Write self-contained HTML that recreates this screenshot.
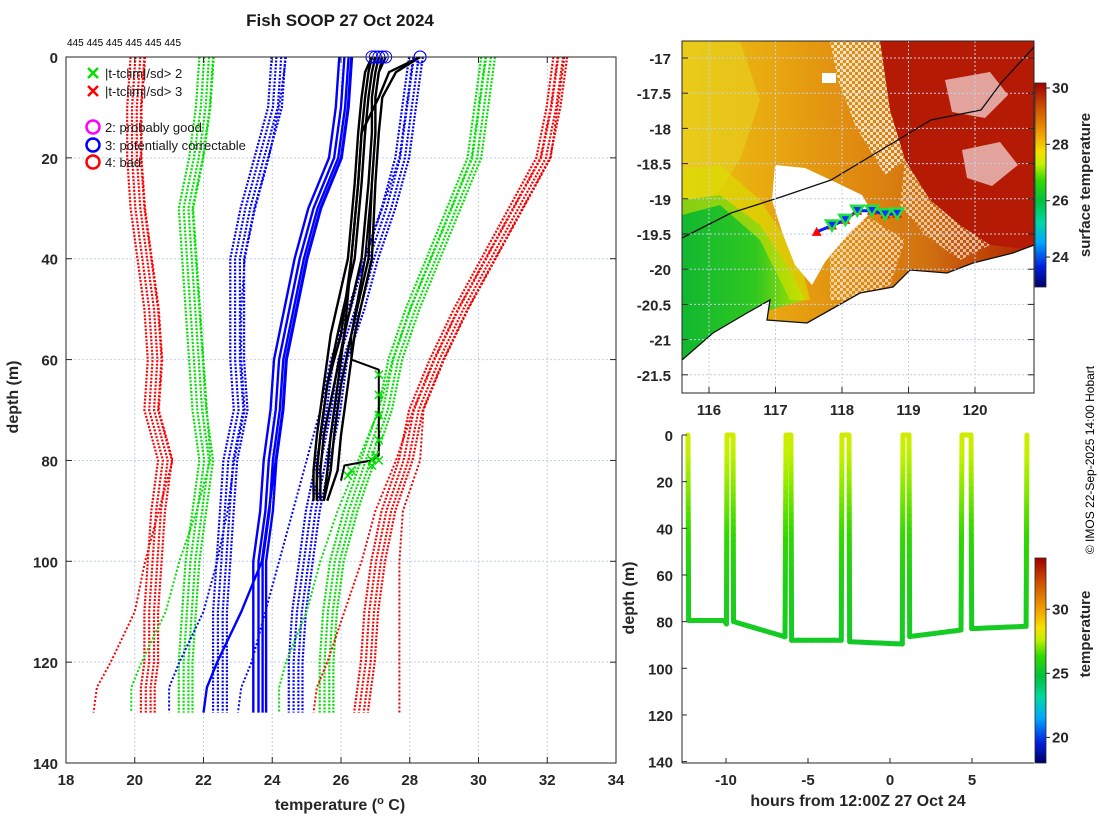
<!DOCTYPE html>
<html><head><meta charset="utf-8">
<style>
html,body{margin:0;padding:0;background:#fff;}
svg{display:block;font-family:"Liberation Sans",sans-serif;}
.tk{font-size:15px;font-weight:bold;fill:#262626;}
.tkm{font-size:15px;font-weight:bold;fill:#262626;}
.lab{font-size:16px;font-weight:bold;fill:#262626;}
</style></head>
<body>
<svg id="fig" width="1100" height="820" viewBox="0 0 1100 820" xmlns="http://www.w3.org/2000/svg">
<defs>
<linearGradient id="cbar" x1="0" y1="1" x2="0" y2="0">
<stop offset="0" stop-color="#00006a"/><stop offset="0.1" stop-color="#0020e0"/><stop offset="0.22" stop-color="#00a8ff"/><stop offset="0.32" stop-color="#00d8a0"/><stop offset="0.42" stop-color="#00c040"/><stop offset="0.52" stop-color="#30d800"/><stop offset="0.6" stop-color="#c0f000"/><stop offset="0.66" stop-color="#f8e000"/><stop offset="0.75" stop-color="#f0a000"/><stop offset="0.88" stop-color="#d05000"/><stop offset="1" stop-color="#a00000"/>
</linearGradient>
<linearGradient id="mapbase" x1="0" y1="0" x2="1" y2="0">
<stop offset="0" stop-color="#eac410"/><stop offset="0.25" stop-color="#e8a810"/><stop offset="0.5" stop-color="#e08a10"/><stop offset="0.7" stop-color="#d07010"/><stop offset="1" stop-color="#b02000"/>
</linearGradient>
<linearGradient id="greenreg" x1="0" y1="0" x2="1" y2="0">
<stop offset="0" stop-color="#10b830"/><stop offset="0.6" stop-color="#30c820"/><stop offset="1" stop-color="#b0e000"/>
</linearGradient>
<pattern id="speck" width="6" height="6" patternUnits="userSpaceOnUse">
<rect x="0" y="0" width="3" height="3" fill="#fff"/><rect x="3" y="3" width="3" height="3" fill="#fff"/>
</pattern>
<clipPath id="mapclip"><rect x="682" y="41" width="352" height="352"/></clipPath>
<clipPath id="leftclip"><rect x="66" y="57" width="550" height="706"/></clipPath>
</defs>

<text x="340" y="26" text-anchor="middle" style="font-size:17px;font-weight:bold;fill:#1a1a1a">Fish SOOP 27 Oct 2024</text>
<text x="67" y="46" style="font-size:10px;fill:#000">445 445 445 445 445 445</text>

<g id="left"></g>
<g id="map"></g>
<g id="sect"></g>

<text transform="translate(1094,460) rotate(-90)" text-anchor="middle" style="font-size:12px;fill:#000">© IMOS 22-Sep-2025 14:00 Hobart</text>
</svg>
<script>
// ---------------- LEFT PANEL DATA ----------------
const xTicks=[18,20,22,24,26,28,30,32,34];
const yTicks=[0,20,40,60,80,100,120,140];
const climDepths=[0,10,20,30,40,50,60,70,80,90,100,110,120,125,130];
const redL=[20.1,20.0,20.0,20.1,20.3,20.5,20.6,20.5,20.9,20.7,20.6,20.5,20.5,20.4,20.4];
const redLout=[20.3,20.2,20.2,20.3,20.5,20.7,20.8,20.7,21.1,20.7,20.3,20.0,19.3,18.9,18.8];
const greenL=[22.1,22.0,21.8,21.5,21.6,21.7,21.8,21.9,22.1,21.9,21.7,21.6,21.5,21.5,21.5];
const greenLout=[22.3,22.2,22.0,21.7,21.8,21.9,22.0,22.1,22.2,21.8,21.3,20.9,20.2,19.9,19.9];
const blueL=[24.2,24.1,23.7,23.3,23.0,23.0,23.0,23.1,22.8,22.7,22.6,22.5,22.5,22.5,22.5];
const blueLout=[24.4,24.2,23.9,23.5,23.2,23.1,23.1,23.2,22.9,22.7,22.4,22.0,21.3,21.0,21.0];
const blueSolid=[26.2,26.1,25.9,25.3,24.9,24.6,24.3,24.2,24.0,23.9,23.7,23.7,23.7,23.7,23.7];
const blueSolidOut=[26.3,26.2,26.0,25.4,25.0,24.7,24.4,24.3,24.1,23.9,23.7,23.1,22.4,22.1,22.0];
const blueR=[28.2,28.0,27.8,27.4,26.9,26.5,26.0,25.8,25.5,25.2,25.0,24.8,24.7,24.7,24.7];
const blueRout=[28.1,27.9,27.7,27.2,26.7,26.2,25.7,25.4,25.0,24.6,24.2,23.8,23.4,23.1,23.0];
const greenR=[30.3,30.1,29.9,29.3,28.7,28.1,27.6,27.3,26.8,26.3,25.9,25.7,25.6,25.6,25.6];
const greenRout=[30.2,30.0,29.8,29.2,28.6,28.0,27.5,27.1,26.5,25.9,25.4,25.0,24.4,24.2,24.2];
const redR=[32.4,32.2,31.9,31.1,30.3,29.5,28.8,28.2,27.9,27.4,27.1,26.9,26.8,26.7,26.6];
const redRout=[32.3,32.1,31.8,31.0,30.2,29.4,28.7,28.1,27.6,27.0,26.6,26.1,25.6,25.3,25.2];
const redRfar=[32.5,32.3,32.1,31.3,30.5,29.7,29.0,28.4,28.3,27.8,27.7,27.7,27.7,27.7,27.7];
const profDepths=[0,3,8,15,25,40,55,65,75,82,88];
const prof1=[26.9,26.7,26.6,26.5,26.4,26.2,25.7,25.5,25.3,25.2,25.2];
const prof2=[27.0,26.9,26.8,26.7,26.6,26.4,25.9,25.6,25.4,25.3,25.3];
const prof3=[27.1,27.0,26.9,26.9,26.8,26.6,26.1,25.8,25.5,25.4,25.4];
const prof4=[27.3,27.1,27.0,27.0,26.9,26.8,26.3,26.0,25.8,25.7,25.5];
const prof5=[28.3,27.6,27.2,27.1,27.0,26.9,26.4,26.2,26.0,25.9,25.6];
const prof6=[28.3,27.4,27.1,26.6,26.5,26.3,26.0,25.6,25.4,25.3,25.3];
const prof8=[26.9,26.8,26.7,26.6,26.5,26.3,26.1,25.9,25.7,25.6,25.5];
const prof7Depths=[0,3,8,15,25,40,55,60,62,79,80,81,84];
const prof7=[27.2,27.1,27.0,27.0,26.9,26.7,26.3,26.3,27.1,27.1,26.9,26.1,26.0];
const flagDepths=[63,67,71,76,79,80,80,81,82,83];
const flagTemps=[27.1,27.1,27.1,27.1,27.0,26.9,27.1,26.9,26.3,26.2];
const surfTemps=[26.9,27.0,27.1,27.3,28.3,28.3,27.2];

// ---------------- MAP DATA ----------------
const lonTicks=[116,117,118,119,120];
const latTicks=[-17,-17.5,-18,-18.5,-19,-19.5,-20,-20.5,-21,-21.5];
const sstTicks=[24,26,28,30];
const trackLon=[117.62,117.85,118.05,118.23,118.45,118.65,118.83];
const trackLat=[-19.47,-19.38,-19.30,-19.17,-19.17,-19.22,-19.21];

// ---------------- SECTION DATA ----------------
const hourTicks=[-10,-5,0,5];
const secDepthTicks=[0,20,40,60,80,100,120,140];
const tempTicks=[20,25,30];
const pathHours=[-12.32,-12.28,-10.1,-9.97,-9.94,-9.57,-9.54,-6.4,-6.34,-6.04,-6.0,-2.97,-2.93,-2.5,-2.46,0.75,0.79,1.16,1.2,4.33,4.39,4.94,4.98,8.3,8.35];
const pathDepth=[0,79.5,79.5,81,0,0,80,86.5,0,0,88,88,0,0,88.6,89.6,0,0,86.4,83.6,0,0,83,82,0];
const secTempDepth=[0,20,40,60,80,90];
const secTemp=[27.9,27.2,26.4,25.8,25.5,25.3];

const NS="http://www.w3.org/2000/svg";
function mk(tag,attrs,parent){const e=document.createElementNS(NS,tag);for(const k in attrs)e.setAttribute(k,attrs[k]);parent.appendChild(e);return e;}

// ========== LEFT PANEL ==========
const L=document.getElementById('left');
const X=t=>66+(t-18)*34.375, Y=d=>57+d*5.043;
xTicks.forEach(t=>{const g=mk('line',{x1:X(t),x2:X(t),y1:57,y2:763,stroke:'#c4cfe8','stroke-width':1,'stroke-dasharray':'2 2'},L);
});
yTicks.forEach(d=>{const g=mk('line',{x1:66,x2:616,y1:Y(d),y2:Y(d),stroke:'#c4cfe8','stroke-width':1,'stroke-dasharray':'2 2'},L);
});
const LC=mk('g',{'clip-path':'url(#leftclip)'},L);
function line(depths,temps,color,w,dash,off,name,parent){
  const pts=depths.map((d,i)=>X(temps[i]+off).toFixed(1)+','+Y(d).toFixed(1)).join(' ');
  const p=mk('polyline',{points:pts,fill:'none',stroke:color,'stroke-width':w,'stroke-linejoin':'round'},parent||LC);
  if(dash)p.setAttribute('stroke-dasharray',dash);
  
  
  return p;
}
const offs=[-0.22,-0.08,0.06,0.18];
[[redL,'#ff0000','clim-minus3sd'],[greenL,'#00e000','clim-minus2sd'],[blueL,'#0000ff','clim-minus1sd'],[blueR,'#0000ff','clim-plus1sd'],[greenR,'#00e000','clim-plus2sd'],[redR,'#ff0000','clim-plus3sd']].forEach(([arr,c,n])=>{
  offs.forEach(o=>line(climDepths,arr,c,2.2,'2 1.5',o,n));
});
[[redLout,'#ff0000'],[greenLout,'#00e000'],[blueLout,'#0000ff'],[blueRout,'#0000ff'],[greenRout,'#00e000'],[redRout,'#ff0000'],[redRfar,'#e00000']].forEach(([arr,c])=>{
  line(climDepths,arr,c,2,'2 2',0,'clim-outlier-line');
});
[-0.25,-0.1,0.02,0.12].forEach(o=>line(climDepths,blueSolid,'#0000ff',2.4,null,o,'clim-mean-line'));
line(climDepths,blueSolidOut,'#0000ff',2.4,null,0,'clim-mean-line');
[prof1,prof2,prof3,prof4,prof5,prof6,prof8].forEach(p=>line(profDepths,p,'#000',2.4,null,0,'xbt-profile'));
line(prof7Depths,prof7,'#000',2,null,0,'xbt-profile');
flagDepths.forEach((d,i)=>{const x=X(flagTemps[i]),y=Y(d);
  const g=mk('path',{d:`M${x-4},${y-4}L${x+4},${y+4}M${x-4},${y+4}L${x+4},${y-4}`,stroke:'#00e000','stroke-width':1.5},LC);
  });
surfTemps.forEach(t=>{const c=mk('circle',{cx:X(t),cy:Y(0),r:6,fill:'none',stroke:'#0000ff','stroke-width':1},L);
  });
const ax=mk('rect',{x:66,y:57,width:550,height:706,fill:'none',stroke:'#262626','stroke-width':1},L);

xTicks.forEach(t=>{mk('line',{x1:X(t),x2:X(t),y1:763,y2:757,stroke:'#262626'},L);mk('line',{x1:X(t),x2:X(t),y1:57,y2:63,stroke:'#262626'},L);
  const tx=mk('text',{x:X(t),y:785,'text-anchor':'middle',class:'tk'},L);tx.textContent=t;
  });
yTicks.forEach(d=>{mk('line',{x1:66,x2:72,y1:Y(d),y2:Y(d),stroke:'#262626'},L);mk('line',{x1:616,x2:610,y1:Y(d),y2:Y(d),stroke:'#262626'},L);
  const tx=mk('text',{x:58,y:Y(d)+6,'text-anchor':'end',class:'tk'},L);tx.textContent=d;
  });
let t1=mk('text',{x:340,y:810,'text-anchor':'middle',class:'lab'},L);
t1.innerHTML='temperature (<tspan dy="-6" style="font-size:11px">o</tspan><tspan dy="6"> C)</tspan>';

let t2=mk('text',{transform:'translate(18,397) rotate(-90)','text-anchor':'middle',class:'lab'},L);t2.textContent='depth (m)';

const lg=mk('g',{},L);
function xm(x,y,c){mk('path',{d:`M${x-5},${y-5}L${x+5},${y+5}M${x-5},${y+5}L${x+5},${y-5}`,stroke:c,'stroke-width':2.5},lg);}
xm(93,73,'#00e000');xm(93,91,'#ff0000');
[['#ff00ff',127],['#0000ff',145],['#ff0000',162]].forEach(([c,y])=>mk('circle',{cx:93,cy:y,r:6.5,fill:'none',stroke:c,'stroke-width':2.5},lg));
[['|t-tclim|/sd> 2',78],['|t-tclim|/sd> 3',96],['2: probably good',132],['3: potentially correctable',150],['4: bad',167]].forEach(([s,y])=>{
  const e=mk('text',{x:105,y:y,style:'font-size:13px;fill:#1a1a1a'},lg);e.textContent=s;
  });

// ========== MAP ==========
const M=document.getElementById('map');
const lonX=l=>709+(l-116)*66.5, latY=a=>58+(-17-a)*70.4;
const MC=mk('g',{'clip-path':'url(#mapclip)'},M);
mk('rect',{x:682,y:41,width:352,height:352,fill:'url(#mapbase)'},MC);
mk('polygon',{points:'682,41 740,41 760,100 740,160 720,190 682,215',fill:'#e8d020',opacity:0.6},MC);
mk('polygon',{points:'682,200 720,195 760,225 790,270 805,300 770,310 730,330 690,360 682,365',fill:'url(#greenreg)'},MC);
mk('polygon',{points:'682,170 720,165 760,200 800,260 810,300 790,300 760,240 720,205 682,215',fill:'#d8e000',opacity:0.6},MC);
mk('polygon',{points:'880,41 1034,41 1034,250 990,245 960,225 930,200 905,160 890,110',fill:'#b51a05'},MC);
mk('polygon',{points:'830,41 880,41 890,110 905,160 885,175 855,125 838,80',fill:'url(#speck)',opacity:0.75},MC);
mk('polygon',{points:'905,160 930,200 960,225 990,245 960,260 925,235 900,205',fill:'url(#speck)',opacity:0.6},MC);
mk('polygon',{points:'830,232 870,218 905,240 890,285 850,300 830,300',fill:'url(#speck)',opacity:0.6},MC);
mk('polygon',{points:'775,165 805,168 835,182 862,195 872,212 850,232 825,262 812,285 795,265 782,232 772,200',fill:'#fff'},MC);
mk('polygon',{points:'945,80 990,72 1008,95 985,118 952,112',fill:'#fff',opacity:0.6},MC);
mk('polygon',{points:'962,150 1000,142 1018,165 992,186 967,178',fill:'#fff',opacity:0.6},MC);
mk('rect',{x:822,y:73,width:14,height:10,fill:'#fff'},MC);
const coast=[[682,360],[713,333],[747,313],[770,300],[767,320],[807,323],[830,310],[860,293],[893,287],[910,270],[947,273],[973,263],[1013,253],[1034,245]];
mk('polygon',{points:coast.map(p=>p.join(',')).join(' ')+' 1034,393 682,393',fill:'#fff'},MC);
const cl=mk('polyline',{points:coast.map(p=>p.join(',')).join(' '),fill:'none',stroke:'#111','stroke-width':1.3},MC);

const shelf=[[682,238],[731,213],[781,197],[831,180],[881,150],[931,120],[981,110],[1001,83],[1034,47]];
const sh=mk('polyline',{points:shelf.map(p=>p.join(',')).join(' '),fill:'none',stroke:'#111','stroke-width':1.3},MC);

lonTicks.forEach(l=>mk('line',{x1:lonX(l),x2:lonX(l),y1:41,y2:393,stroke:'#c4cfe8','stroke-dasharray':'2 2'},MC));
latTicks.forEach(a=>mk('line',{x1:682,x2:1034,y1:latY(a),y2:latY(a),stroke:'#c4cfe8','stroke-dasharray':'2 2'},MC));
const tr=mk('polyline',{points:trackLon.map((l,i)=>lonX(l)+','+latY(trackLat[i])).join(' '),fill:'none',stroke:'#0020ff','stroke-width':3},MC);

trackLon.forEach((l,i)=>{const x=lonX(l),y=latY(trackLat[i]);
  const up=mk('polygon',{points:`${x-5},${y+4} ${x+5},${y+4} ${x},${y-5}`,fill:'#ff0000'},MC);
  
  if(i>0){const dn=mk('polygon',{points:`${x-6},${y-5} ${x+6},${y-5} ${x},${y+5}`,fill:'#0030ff',stroke:'#20e040','stroke-width':2.5},MC);
  }});
const mf=mk('rect',{x:682,y:41,width:352,height:352,fill:'none',stroke:'#262626'},M);

lonTicks.forEach(l=>{mk('line',{x1:lonX(l),x2:lonX(l),y1:393,y2:387,stroke:'#262626'},M);
  const t=mk('text',{x:lonX(l),y:415,'text-anchor':'middle',class:'tkm'},M);t.textContent=l;
  });
latTicks.forEach(a=>{mk('line',{x1:682,x2:688,y1:latY(a),y2:latY(a),stroke:'#262626'},M);mk('line',{x1:1034,x2:1028,y1:latY(a),y2:latY(a),stroke:'#262626'},M);
  const t=mk('text',{x:671,y:latY(a)+6,'text-anchor':'end',class:'tkm'},M);t.textContent=a;
  });
const sY=v=>88+(30-v)*28.17;
const cb1=mk('rect',{x:1035,y:83,width:11,height:204,fill:'url(#cbar)',stroke:'#262626','stroke-width':0.8},M);

sstTicks.forEach(v=>{mk('line',{x1:1046,x2:1050,y1:sY(v),y2:sY(v),stroke:'#262626'},M);
  const t=mk('text',{x:1052,y:sY(v)+5,class:'tk'},M);t.textContent=v;
  });
const st=mk('text',{transform:'translate(1090,185) rotate(-90)','text-anchor':'middle',class:'lab',style:'font-size:15px'},M);st.textContent='surface temperature';


// ========== SECTION ==========
const S=document.getElementById('sect');
const hX=h=>890+h*16.4, dY=d=>435+d*2.333;
const tmin=18,tmax=34;
const cstops=[[18,[0,0,106]],[19.6,[0,32,224]],[21.5,[0,168,255]],[23,[0,216,160]],[24.7,[0,192,64]],[26.3,[48,216,0]],[27.6,[192,240,0]],[28.6,[248,224,0]],[30,[240,160,0]],[32,[208,80,0]],[34,[160,0,0]]];
function cmap(t){for(let i=1;i<cstops.length;i++){if(t<=cstops[i][0]){const a=cstops[i-1],b=cstops[i],f=(t-a[0])/(b[0]-a[0]);return 'rgb('+a[1].map((v,k)=>Math.round(v+(b[1][k]-v)*f)).join(',')+')';}}return 'rgb(160,0,0)';}
function tAt(d){for(let i=1;i<secTempDepth.length;i++){if(d<=secTempDepth[i]){const f=(d-secTempDepth[i-1])/(secTempDepth[i]-secTempDepth[i-1]);return secTemp[i-1]+(secTemp[i]-secTemp[i-1])*f;}}return secTemp[secTemp.length-1];}
const SG=mk('g',{},S);
for(let i=1;i<pathHours.length;i++){
  const h0=pathHours[i-1],h1=pathHours[i],d0=pathDepth[i-1],d1=pathDepth[i];
  const n=Math.max(1,Math.ceil(Math.abs(d1-d0)/3)+Math.ceil(Math.abs(h1-h0)*2));
  for(let k=0;k<n;k++){const fa=k/n,fb=(k+1)/n;const da=d0+(d1-d0)*fa,db=d0+(d1-d0)*fb;
    const seg=mk('line',{x1:hX(h0+(h1-h0)*fa),y1:dY(da),x2:hX(h0+(h1-h0)*fb),y2:dY(db),stroke:cmap(tAt((da+db)/2)),'stroke-width':5,'stroke-linecap':'round'},SG);
    
    }
}
mk('line',{x1:682,x2:682,y1:435,y2:763,stroke:'#262626'},S);
mk('line',{x1:682,x2:1034,y1:763,y2:763,stroke:'#262626'},S);
hourTicks.forEach(h=>{mk('line',{x1:hX(h),x2:hX(h),y1:763,y2:758,stroke:'#262626'},S);
  const t=mk('text',{x:hX(h),y:785,'text-anchor':'middle',class:'tk'},S);t.textContent=h;
  });
secDepthTicks.forEach(d=>{mk('line',{x1:682,x2:687,y1:dY(d),y2:dY(d),stroke:'#262626'},S);
  const t=mk('text',{x:673,y:dY(d)+6,'text-anchor':'end',class:'tk'},S);t.textContent=d;
  });
const sx=mk('text',{x:858,y:806,'text-anchor':'middle',class:'lab'},S);sx.textContent='hours from 12:00Z 27 Oct 24';

const sy=mk('text',{transform:'translate(634,598) rotate(-90)','text-anchor':'middle',class:'lab'},S);sy.textContent='depth (m)';

const tY=v=>763-(v-tmin)*(205/(tmax-tmin));
const cb2=mk('rect',{x:1035,y:558,width:11,height:205,fill:'url(#cbar)',stroke:'#262626','stroke-width':0.8},S);

tempTicks.forEach(v=>{mk('line',{x1:1046,x2:1050,y1:tY(v),y2:tY(v),stroke:'#262626'},S);
  const t=mk('text',{x:1052,y:tY(v)+5,class:'tk'},S);t.textContent=v;
  });
const ct=mk('text',{transform:'translate(1090,634) rotate(-90)','text-anchor':'middle',class:'lab',style:'font-size:15px'},S);ct.textContent='temperature';

</script>
</body></html>
